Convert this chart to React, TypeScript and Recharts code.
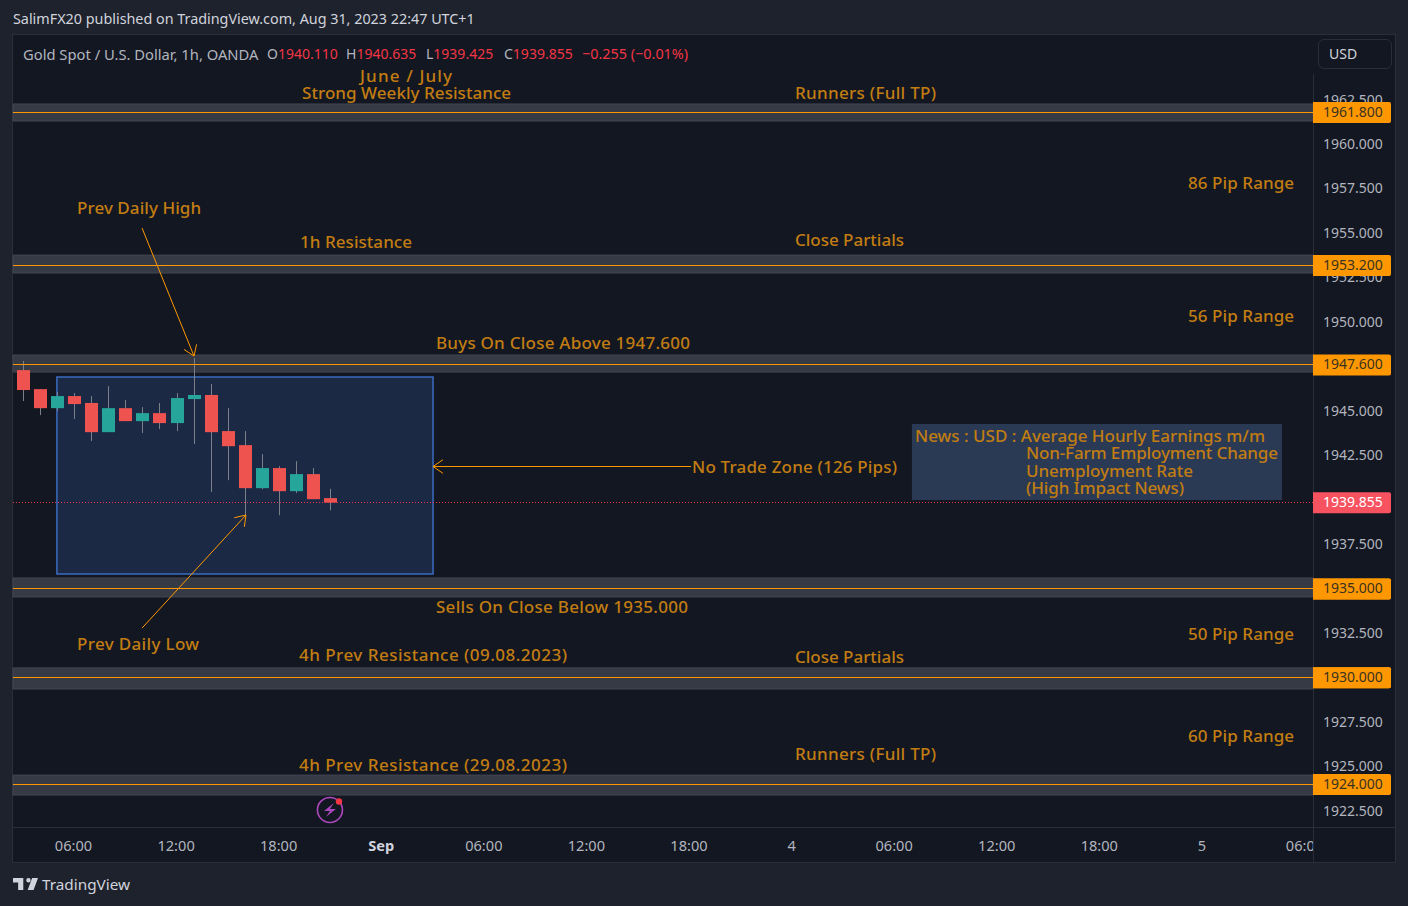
import React from "react";
import { ComposedChart, Bar, XAxis, YAxis, ReferenceArea, ReferenceLine, ReferenceDot } from "recharts";

const hours = [3, 4, 5, 6, 7, 8, 9, 10, 11, 12, 13, 14, 15, 16, 17, 18, 19, 20, 21];
const opens = [1947.31, 1946.24, 1945.17, 1945.85, 1945.46, 1943.82, 1945.17, 1944.44, 1944.89, 1944.33, 1945.68, 1945.91, 1943.88, 1943.09, 1940.67, 1941.8, 1940.5, 1941.46, 1940.11];
const highs = [1947.82, 1946.24, 1946.08, 1946.02, 1945.85, 1946.41, 1945.63, 1945.23, 1945.46, 1946.02, 1947.99, 1946.53, 1945.17, 1943.88, 1942.59, 1941.91, 1942.19, 1941.8, 1940.635];
const lows = [1945.57, 1944.78, 1945.01, 1944.56, 1943.32, 1943.82, 1944.44, 1943.77, 1943.99, 1943.88, 1943.15, 1940.45, 1941.12, 1939.15, 1940.61, 1939.15, 1940.39, 1940.05, 1939.425];
const closes = [1946.19, 1945.17, 1945.85, 1945.4, 1943.82, 1945.17, 1944.44, 1944.89, 1944.33, 1945.74, 1945.91, 1943.82, 1943.03, 1940.67, 1941.8, 1940.5, 1941.46, 1940.05, 1939.855];

const candles = hours.map((h, i) => ({ h, open: opens[i], high: highs[i], low: lows[i], close: closes[i] }));

const priceTicks = [1962.5, 1960, 1957.5, 1955, 1952.5, 1950, 1947.5, 1945, 1942.5, 1940, 1937.5, 1935, 1932.5, 1930, 1927.5, 1925, 1922.5];
const levels = [1961.8, 1953.2, 1947.6, 1935, 1930, 1924];
const bandTops = [1962.28, 1953.78, 1948.16, 1935.62, 1930.56, 1924.53];
const bandBottoms = [1961.32, 1952.77, 1947.2, 1934.55, 1929.37, 1923.41];
const lastPrice = closes[closes.length - 1];

const timeTicks = [6, 12, 18, 24, 30, 36, 42, 48, 54, 60, 66, 72, 78];
const timeLabels = ["06:00", "12:00", "18:00", "Sep", "06:00", "12:00", "18:00", "4", "06:00", "12:00", "18:00", "5", "06:00"];
const boldTimeLabels = ["Sep"];

const noteTexts = [
  "June / July", "Strong Weekly Resistance", "Runners (Full TP)", "86 Pip Range", "Prev Daily High", "1h Resistance",
  "Close Partials", "56 Pip Range", "Buys On Close Above 1947.600", "No Trade Zone (126 Pips)", "Sells On Close Below 1935.000",
  "50 Pip Range", "Prev Daily Low", "4h Prev Resistance (09.08.2023)", "Close Partials", "60 Pip Range", "Runners (Full TP)",
  "4h Prev Resistance (29.08.2023)", "News : USD : Average Hourly Earnings m/m", "Non-Farm Employment Change", "Unemployment Rate", "(High Impact News)",
];
const noteHours = [22.73, 19.34, 48.17, 71.16, 6.18, 19.22, 48.17, 71.16, 27.17, 42.15, 27.17, 71.16, 6.18, 19.16, 48.17, 71.16, 48.17, 19.16, 55.19, 61.68, 61.68, 61.68];
const notePrices = [1963.9, 1962.93, 1962.93, 1957.89, 1956.43, 1954.52, 1954.66, 1950.41, 1948.89, 1941.89, 1934.01, 1932.47, 1931.96, 1931.34, 1931.2, 1926.73, 1925.72, 1925.12, 1943.66, 1942.65, 1941.69, 1940.68];

const arrowFromHours = [9.98, 9.98, 42.09];
const arrowFromPrices = [1955.3, 1932.8, 1941.89];
const arrowToHours = [13.02, 16.06, 27.0];
const arrowToPrices = [1948.1, 1939.16, 1941.89];

const zoneHours = [5, 27];
const zonePrices = [1935.84, 1946.92];
const newsHours = [55.01, 76.65];
const newsPrices = [1940.0, 1944.28];
const alertPoint = [20.97, 1922.57];

// Rendered text widths, so that the substitute font fills the same run as the original one.
const noteWidths = [92, 209, 141, 106, 124, 112, 109, 106, 254, 205, 252, 106, 122, 268, 109, 106, 141, 268, 350, 252, 167, 158];

const FONT = '"Noto Sans", sans-serif';
const NOTE = "#c27d12";
const ORANGE = "#ff9800";
const RED = "#f23645";
const PANEL = "#131722";
const PAGE = "#1e222d";
const EDGE = "#2a2e39";
const GREY = "#b2b5be";

const Candle = (p: any) => {
  const { x, y, width, height, payload } = p;
  const span = payload.high - payload.low;
  const toY = (v: number) => y + ((payload.high - v) / span) * height;
  const up = payload.close >= payload.open;
  const top = toY(Math.max(payload.open, payload.close));
  const bottom = toY(Math.min(payload.open, payload.close));
  const cx = Math.round(x + width / 2);
  return (
    <g>
      <rect x={cx} y={y} width={1} height={height} fill="#7b7f8a" />
      <rect x={cx - 6} y={top} width={13} height={Math.max(bottom - top, 1)} fill={up ? "#26a69a" : "#ef5350"} />
    </g>
  );
};

const PriceTick = (p: any) => {
  const { x, y, payload } = p;
  const v = payload.value;
  const isLevel = levels.includes(v);
  const isLast = v === lastPrice;
  if (isLevel || isLast) {
    const fill = isLast ? "#f7525f" : ORANGE;
    return (
      <g>
        <path d={`M${x} ${y - 10.5}h76a2 2 0 0 1 2 2v17a2 2 0 0 1 -2 2h-76z`} fill={fill} />
        <text x={x + 10} y={y - 1} dominantBaseline="central" fontFamily={FONT} fontSize={14} fill={isLast ? "#ffffff" : "#3a3320"}>
          {v.toFixed(3)}
        </text>
      </g>
    );
  }
  return (
    <text x={x + 10} y={y - 1} dominantBaseline="central" fontFamily={FONT} fontSize={14} fill={GREY}>
      {v.toFixed(3)}
    </text>
  );
};

const TimeTick = (p: any) => {
  const { x, payload, index } = p;
  const label = timeLabels[timeTicks.indexOf(payload.value)];
  const id = `time-clip-${index}`;
  return (
    <g>
      <defs>
        <clipPath id={id}>
          <rect x={13} y={828} width={1300} height={34} />
        </clipPath>
      </defs>
      <text
        x={x - 0.5}
        y={845}
        textAnchor="middle"
        dominantBaseline="central"
        fontFamily={FONT}
        fontSize={14.6}
        fontWeight={boldTimeLabels.includes(label) ? 700 : 400}
        fill={boldTimeLabels.includes(label) ? "#d1d4dc" : GREY}
        clipPath={`url(#${id})`}
      >
        {label}
      </text>
    </g>
  );
};

const CrispLine = (p: any) => {
  const y = Math.floor(p.y1) + 0.5;
  return <line x1={p.x1} y1={y} x2={p.x2} y2={y} stroke={p.stroke} strokeWidth={1} strokeDasharray={p.strokeDasharray} />;
};

const Arrow = (p: any) => {
  const flat = p.y1 === p.y2;
  const x1 = p.x1;
  const x2 = p.x2;
  const y1 = flat ? Math.floor(p.y1) + 0.5 : p.y1;
  const y2 = flat ? Math.floor(p.y2) + 0.5 : p.y2;
  const a = Math.atan2(y2 - y1, x2 - x1);
  const len = 12;
  const s = 0.6;
  return (
    <g fill="none" stroke={ORANGE} strokeWidth={1}>
      <line x1={x1} y1={y1} x2={x2} y2={y2} />
      <path
        d={`M${x2 - len * Math.cos(a - s)} ${y2 - len * Math.sin(a - s)}L${x2} ${y2}L${x2 - len * Math.cos(a + s)} ${y2 - len * Math.sin(a + s)}`}
      />
    </g>
  );
};

const NoteText = (text: string, width: number) => (p: any) => (
  <text
    x={p.cx}
    y={p.cy}
    dominantBaseline="central"
    fontFamily={FONT}
    fontSize={17}
    fontWeight={500}
    fill={NOTE}
    textLength={width}
    lengthAdjust="spacing"
  >
    {text}
  </text>
);

const AlertIcon = (p: any) => (
  <g>
    <circle cx={p.cx} cy={p.cy} r={12.5} fill="none" stroke="#ab47bc" strokeWidth={1.6} />
    <path d={`M${p.cx + 4} ${p.cy - 7}L${p.cx - 6} ${p.cy + 1}H${p.cx}L${p.cx - 4} ${p.cy + 7}L${p.cx + 6} ${p.cy - 1}H${p.cx}z`} fill="#ab47bc" />
    <circle cx={p.cx + 9} cy={p.cy - 8.5} r={3.2} fill="#f23645" />
  </g>
);

const Abs = ({ x, y, c, size, children }: any) => (
  <div style={{ position: "absolute", left: x, top: y, transform: "translateY(-50%)", color: c, fontFamily: FONT, fontSize: size || 14, whiteSpace: "pre", lineHeight: "20px" }}>
    {children}
  </div>
);

export default function App() {
  const o = opens[opens.length - 1];
  const h = highs[highs.length - 1];
  const l = lows[lows.length - 1];
  const c = closes[closes.length - 1];
  const chg = c - o;
  return (
    <div style={{ position: "absolute", left: 0, top: 0, width: 1408, height: 906, background: PAGE, overflow: "hidden" }}>
      <div style={{ position: "absolute", left: 12, top: 34, width: 1382, height: 827, background: PANEL, border: `1px solid ${EDGE}` }} />
      <div style={{ position: "absolute", left: 13, top: 827, width: 1382, height: 1, background: EDGE }} />
      <div style={{ position: "absolute", left: 1313, top: 74, width: 1, height: 788, background: EDGE }} />

      <div style={{ position: "absolute", left: 0, top: 0 }}>
        <ComposedChart width={1408} height={906} data={candles} margin={{ top: 35, right: 13, bottom: 44, left: 13 }}>
          <XAxis
            dataKey="h"
            type="number"
            domain={[2.432, 78.469]}
            ticks={timeTicks}
            interval={0}
            allowDataOverflow
            height={35}
            axisLine={false}
            tickLine={false}
            tick={<TimeTick />}
          />
          <YAxis
            orientation="right"
            type="number"
            domain={[1921.61, 1966.16]}
            ticks={[...priceTicks, ...levels, lastPrice]}
            interval={0}
            allowDataOverflow
            width={82}
            axisLine={false}
            tickLine={false}
            tickSize={0}
            tickMargin={0}
            tick={<PriceTick />}
          />
          {levels.map((lv, i) => (
            <ReferenceArea key={`band-${lv}`} y1={bandBottoms[i]} y2={bandTops[i]} fill="#363a45" fillOpacity={1} stroke="#434651" strokeWidth={1} />
          ))}
          <ReferenceArea x1={zoneHours[0]} x2={zoneHours[1]} y1={zonePrices[0]} y2={zonePrices[1]} fill="#1b2945" fillOpacity={1} stroke="#3a6cc0" strokeWidth={1.5} />
          <ReferenceArea x1={newsHours[0]} x2={newsHours[1]} y1={newsPrices[0]} y2={newsPrices[1]} fill="#2a3a55" fillOpacity={1} stroke="none" />
          {levels.map((lv) => (
            <ReferenceLine key={`line-${lv}`} y={lv} stroke={ORANGE} shape={CrispLine} />
          ))}
          <ReferenceLine y={lastPrice} stroke={RED} strokeDasharray="1 2" shape={CrispLine} />
          <Bar dataKey={(d: any) => [d.low, d.high]} barSize={13} shape={<Candle />} isAnimationActive={false} />
          {arrowToHours.map((hr, i) => (
            <ReferenceLine
              key={`arrow-${i}`}
              segment={[{ x: arrowFromHours[i], y: arrowFromPrices[i] }, { x: hr, y: arrowToPrices[i] }]}
              shape={Arrow}
              stroke={ORANGE}
            />
          ))}
          {noteTexts.map((t, i) => (
            <ReferenceDot key={`note-${i}`} x={noteHours[i]} y={notePrices[i]} r={0} shape={NoteText(t, noteWidths[i])} />
          ))}
          <ReferenceDot x={alertPoint[0]} y={alertPoint[1]} r={0} shape={AlertIcon} />
        </ComposedChart>
      </div>

      <Abs x={13} y={19} c="#d1d4dc" size={14.35}>SalimFX20 published on TradingView.com, Aug 31, 2023 22:47 UTC+1</Abs>
      <Abs x={23} y={53.5} c={GREY} size={14.75}>Gold Spot / U.S. Dollar, 1h, OANDA</Abs>
      <Abs x={267} y={54} c={GREY}>O<span style={{ color: RED }}>{o.toFixed(3)}</span></Abs>
      <Abs x={346} y={54} c={GREY}>H<span style={{ color: RED }}>{h.toFixed(3)}</span></Abs>
      <Abs x={426} y={54} c={GREY}>L<span style={{ color: RED }}>{l.toFixed(3)}</span></Abs>
      <Abs x={504} y={54} c={GREY}>C<span style={{ color: RED }}>{c.toFixed(3)}</span></Abs>
      <Abs x={582} y={54} c={RED} size={14.4}>{`\u2212${Math.abs(chg).toFixed(3)} (\u22120.01%)`}</Abs>

      <div style={{ position: "absolute", left: 1318, top: 39, width: 72, height: 28, border: `1px solid ${EDGE}`, borderRadius: 6, boxSizing: "content-box" }} />
      <Abs x={1329} y={54} c="#d1d4dc">USD</Abs>

      <svg style={{ position: "absolute", left: 13, top: 877 }} width={25} height={14} viewBox="0 5 34 18">
        <path fill="#d1d4dc" d="M14 6H0v6h7v10h7V6zm20 0h-8l-6 16h8l6-16zM21 12a3 3 0 1 0 0-6 3 3 0 0 0 0 6z" />
      </svg>
      <div style={{ position: "absolute", left: 42, top: 884, transform: "translateY(-50%)", color: "#d1d4dc", fontFamily: FONT, fontSize: 15.3, whiteSpace: "pre" }}>TradingView</div>
    </div>
  );
}
